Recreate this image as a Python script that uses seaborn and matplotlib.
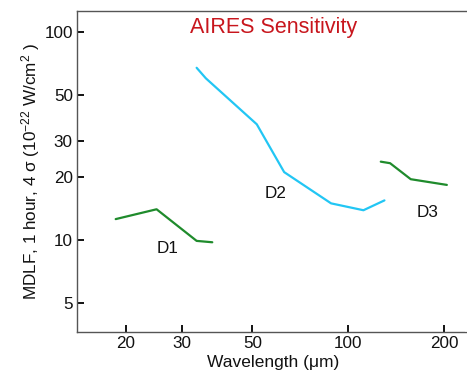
import numpy as np
import pandas as pd
import seaborn as sns
import matplotlib
matplotlib.use("Agg")
import matplotlib.pyplot as plt
from matplotlib.lines import Line2D

# Data
d1_wave = [18.6, 25.0, 33.4, 37.4]
d1_mdlf = [12.6, 14.05, 9.9, 9.75]
d2_wave = [33.4, 35.7, 51.6, 62.9, 88.3, 111.6, 129.9]
d2_mdlf = [67.3, 59.9, 36.0, 21.2, 15.0, 13.9, 15.5]
d3_wave = [126.5, 135.3, 157.1, 204.0]
d3_mdlf = [23.8, 23.4, 19.6, 18.4]
band_names = ["D1", "D2", "D3"]
band_label_wave = [27.0, 59.3, 178.0]
band_label_mdlf = [9.15, 16.8, 13.6]
x_ticks = [20, 30, 50, 100, 200]
y_ticks = [5, 10, 20, 30, 50, 100]

sns.set_theme(style="white")
plt.rcParams['font.family'] = ['Liberation Sans', 'DejaVu Sans']
plt.rcParams['mathtext.fontset'] = 'custom'
plt.rcParams['mathtext.rm'] = 'Liberation Sans'
plt.rcParams['mathtext.it'] = 'Liberation Sans'

df = pd.concat([
    pd.DataFrame({"wave": d1_wave, "mdlf": d1_mdlf, "band": "D1"}),
    pd.DataFrame({"wave": d2_wave, "mdlf": d2_mdlf, "band": "D2"}),
    pd.DataFrame({"wave": d3_wave, "mdlf": d3_mdlf, "band": "D3"}),
], ignore_index=True)

palette = {"D1": "#1f8b2c", "D2": "#22c6f4", "D3": "#1f8b2c"}

fig = plt.figure(figsize=(4.67, 3.70), dpi=100, facecolor="white")
ax_w = 1.05
ax = fig.add_axes([77/467, 1 - 332/370, ax_w, (332 - 11)/370])
ax.set_facecolor("none")
sns.lineplot(data=df, x="wave", y="mdlf", hue="band", palette=palette,
             sort=False, legend=False, linewidth=1.6, ax=ax, estimator=None)

ax.set_xscale("log")
ax.set_yscale("log")
# figure's right edge corresponds to a wavelength of ~236; axes continues beyond
frac_visible = (1 - 77/467) / ax_w
ax.set_xlim(14.06, 14.06 * (236 / 14.06) ** (1.0 / frac_visible))
ax.set_ylim(3.61, 126.2)
ax.set_xticks(x_ticks)
ax.set_xticklabels([str(t) for t in x_ticks])
ax.set_yticks(y_ticks)
ax.set_yticklabels([str(t) for t in y_ticks])
ax.minorticks_off()
ax.tick_params(axis="both", direction="in", length=5, width=1.3, color="black",
               labelsize=12.3, pad=3, labelcolor="#111111")
ax.tick_params(axis="x", bottom=True, top=False)
ax.tick_params(axis="y", left=True, right=False)
for s in ["left", "top", "bottom"]:
    ax.spines[s].set_color("#555555")
    ax.spines[s].set_linewidth(1.0)
ax.spines["right"].set_visible(False)

ax.set_xlabel("Wavelength (\u03bcm)", fontsize=12.5, color="#111111")
ax.xaxis.set_label_coords((273 - 77) / (467 * ax_w), -(362 - 332) / 321, transform=ax.transAxes)
ax.xaxis.label.set_va("center")
ax.set_ylabel("MDLF, 1 hour, 4 \u03c3 (10$^{-22}$ W/cm$^{2}$ )", fontsize=12.3,
              labelpad=2, color="#111111")

fig.text(274/467, 1 - 27/370, "AIRES Sensitivity", ha="center", va="center",
         fontsize=15.5, color="#c8161d")

for name, x, y in zip(band_names, band_label_wave, band_label_mdlf):
    ax.text(x, y, name, ha="center", va="center", fontsize=12.3, color="#111111")

# keep the open right side clean at the figure edge
fig.add_artist(Line2D([1 - 1/467, 1 - 1/467], [1 - 330.5/370, 1 - 12.5/370],
                      color="white", linewidth=2.0, transform=fig.transFigure,
                      solid_capstyle="butt", zorder=20))

fig.savefig("out.png", dpi=100, facecolor="white")
